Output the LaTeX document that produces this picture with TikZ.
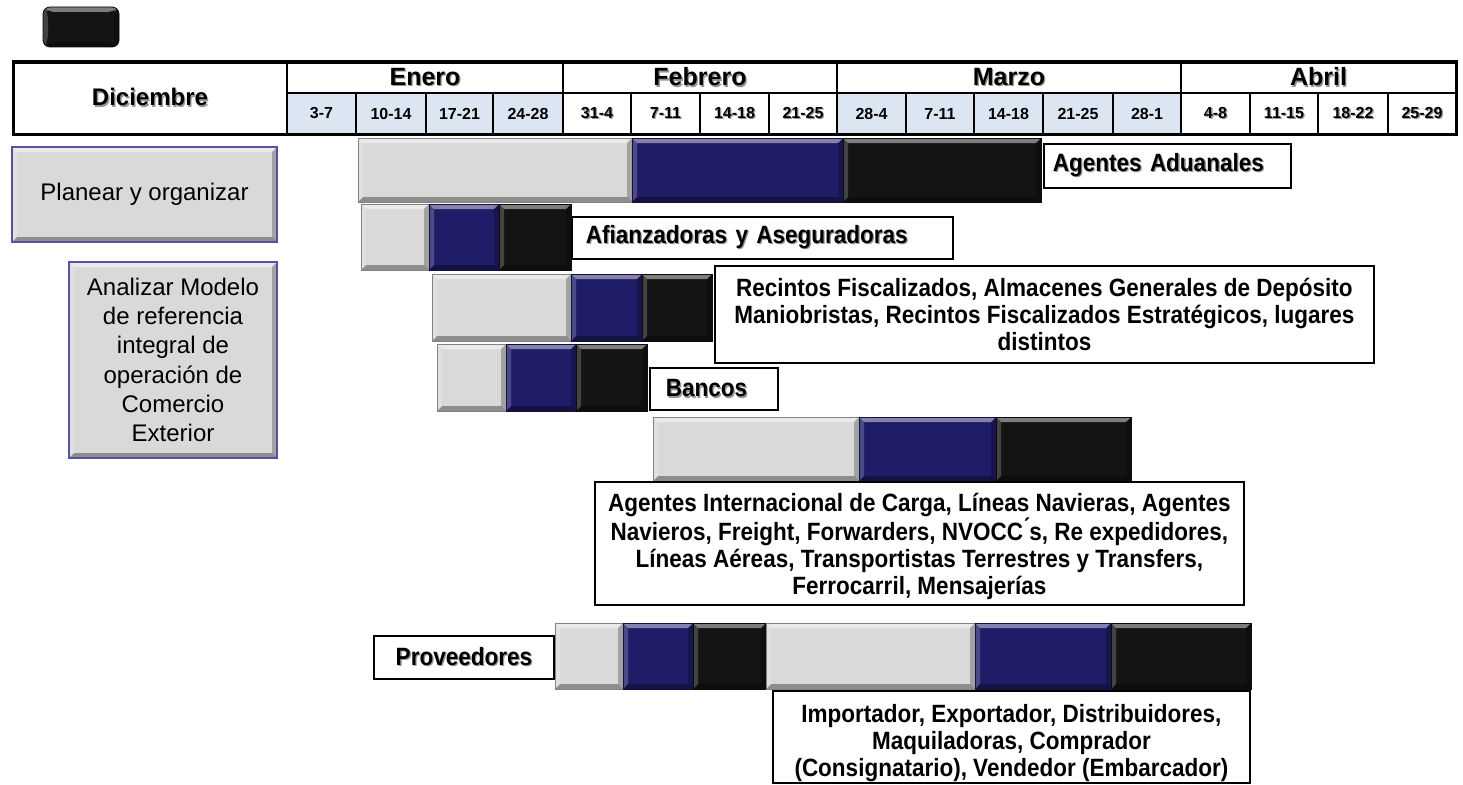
\documentclass[tikz,border=0pt]{standalone}
\usepackage{fontspec}
\setmainfont{Liberation Sans}
\newfontfamily\narrowfont[FakeStretch=0.9]{Liberation Sans}
\usetikzlibrary{positioning}

\definecolor{barGray}{RGB}{217,217,217}
\definecolor{barBlue}{RGB}{31,29,104}
\definecolor{barBlack}{RGB}{20,20,20}
\definecolor{weekBlue}{RGB}{220,230,242}
\definecolor{planBorder}{RGB}{84,84,160}
\definecolor{shadowGray}{RGB}{150,150,150}

\newcommand\shadowtxt[1]{\leavevmode\rlap{\kern1.3pt\raisebox{-1.3pt}{\textcolor{shadowGray}{#1}}}#1}

\tikzset{
  bevel/.style = {fill=#1, draw=#1!60!black, line width=0.8pt, inner sep=0pt, outer sep=0pt,
    path picture={
      \fill[white, opacity=.45] (path picture bounding box.north west) -- (path picture bounding box.north east)
        -- ([shift={(-5pt,-5pt)}]path picture bounding box.north east) -- ([shift={(5pt,-5pt)}]path picture bounding box.north west) -- cycle;
      \fill[black, opacity=.35] (path picture bounding box.south west) -- (path picture bounding box.south east)
        -- ([shift={(-5pt,5pt)}]path picture bounding box.south east) -- ([shift={(5pt,5pt)}]path picture bounding box.south west) -- cycle;
      \fill[white, opacity=.2] (path picture bounding box.north west) -- ([shift={(5pt,-5pt)}]path picture bounding box.north west)
        -- ([shift={(5pt,5pt)}]path picture bounding box.south west) -- (path picture bounding box.south west) -- cycle;
      \fill[black, opacity=.25] (path picture bounding box.north east) -- ([shift={(-5pt,-5pt)}]path picture bounding box.north east)
        -- ([shift={(-5pt,5pt)}]path picture bounding box.south east) -- (path picture bounding box.south east) -- cycle;
    }},
  wh/.style 2 args = {minimum width=#1, minimum height=#2}
}

\begin{document}
\begin{tikzpicture}[
  x=1pt, y=-1pt,
  gbar/.style = {bevel=barGray},
  bbar/.style = {bevel=barBlue},
  kbar/.style = {bevel=barBlack},
  month/.style = {draw, line width=2.5pt, inner sep=0pt, outer sep=0pt, anchor=north west, font=\bfseries\fontsize{25}{27}\selectfont},
  week/.style = {draw, line width=1.5pt, inner sep=0pt, outer sep=0pt, anchor=north west, minimum height=41, font=\bfseries\fontsize{16}{18}\selectfont},
  weekb/.style = {week, fill=weekBlue},
  task/.style = {bevel=barGray, draw=planBorder, line width=1.5pt, anchor=north west, align=center, font=\fontsize{24}{29.3}\selectfont},
  lbl/.style = {draw, fill=white, line width=1.8pt, inner sep=0pt, anchor=north west, align=center, font=\narrowfont\bfseries\fontsize{25}{27}\selectfont}
]
  \useasboundingbox (0,0) rectangle (1463,784);

  % legend
  \node[bevel=barBlack, rounded corners=7pt, anchor=north west, wh={76}{40}] (legend) at (43,7) {};

  % calendar
  \node[month, wh={274}{72}, font=\bfseries\fontsize{24}{26}\selectfont] (dic) at (13,62) {\shadowtxt{Diciembre}};
  \node[month, wh={276}{31}] (enero) at (287,62) {\shadowtxt{Enero}};
  \node[month, wh={274}{31}] (febrero) at (563,62) {\shadowtxt{Febrero}};
  \node[month, wh={344}{31}] (marzo) at (837,62) {\shadowtxt{Marzo}};
  \node[month, wh={275}{31}] (abril) at (1181,62) {\shadowtxt{Abril}};

  \node[weekb, minimum width=69] (w1) at (287,93) {3-7};
  \node[weekb, minimum width=70] (w2) at (356,93) {10-14};
  \node[weekb, minimum width=67] (w3) at (426,93) {17-21};
  \node[weekb, minimum width=70] (w4) at (493,93) {24-28};
  \node[week, minimum width=68] (w5) at (563,93) {\shadowtxt{31-4}};
  \node[week, minimum width=69] (w6) at (631,93) {\shadowtxt{7-11}};
  \node[week, minimum width=69] (w7) at (700,93) {\shadowtxt{14-18}};
  \node[week, minimum width=68] (w8) at (769,93) {\shadowtxt{21-25}};
  \node[weekb, minimum width=69] (w9) at (837,93) {28-4};
  \node[weekb, minimum width=68] (w10) at (906,93) {7-11};
  \node[weekb, minimum width=69] (w11) at (974,93) {14-18};
  \node[weekb, minimum width=70] (w12) at (1043,93) {21-25};
  \node[weekb, minimum width=68] (w13) at (1113,93) {28-1};
  \node[week, minimum width=69] (w14) at (1181,93) {\shadowtxt{4-8}};
  \node[week, minimum width=68] (w15) at (1250,93) {\shadowtxt{11-15}};
  \node[week, minimum width=70] (w16) at (1318,93) {\shadowtxt{18-22}};
  \node[week, minimum width=68] (w17) at (1388,93) {\shadowtxt{25-29}};
  \draw[line width=3pt] (dic.north west) rectangle (w17.south east);

  % tasks
  \node[task, wh={265}{95}] (planear) at (12,147) {Planear y organizar};
  \node[task, wh={208}{196}] (analizar) at (69,262) {Analizar Modelo\\de referencia\\integral de\\operaci\'on de\\Comercio\\Exterior};

  % bars
  \node[gbar, wh={274}{64}, anchor=north west] (r1g) at (358,138) {};
  \node[bbar, wh={211}{64}, right=0pt of r1g] (r1b) {};
  \node[kbar, wh={198}{64}, right=0pt of r1b] (r1k) {};

  \node[gbar, wh={68}{66}, anchor=north west] (r2g) at (361,204) {};
  \node[bbar, wh={70}{66}, right=0pt of r2g] (r2b) {};
  \node[kbar, wh={72}{66}, right=0pt of r2b] (r2k) {};

  \node[gbar, wh={139}{67}, anchor=north west] (r3g) at (432,274) {};
  \node[bbar, wh={71}{67}, right=0pt of r3g] (r3b) {};
  \node[kbar, wh={70}{67}, right=0pt of r3b] (r3k) {};

  \node[gbar, wh={69}{67}, anchor=north west] (r4g) at (437,344) {};
  \node[bbar, wh={70}{67}, right=0pt of r4g] (r4b) {};
  \node[kbar, wh={71}{67}, right=0pt of r4b] (r4k) {};

  \node[gbar, wh={206}{64}, anchor=north west] (r5g) at (653,417) {};
  \node[bbar, wh={137}{64}, right=0pt of r5g] (r5b) {};
  \node[kbar, wh={135}{64}, right=0pt of r5b] (r5k) {};

  \node[gbar, wh={68}{66}, anchor=north west] (r6g) at (555,623) {};
  \node[bbar, wh={70}{66}, right=0pt of r6g] (r6b) {};
  \node[kbar, wh={73}{66}, right=0pt of r6b] (r6k) {};
  \node[gbar, wh={209}{66}, right=0pt of r6k] (r6g2) {};
  \node[bbar, wh={136}{66}, right=0pt of r6g2] (r6b2) {};
  \node[kbar, wh={140}{66}, right=0pt of r6b2] (r6k2) {};

  % actors
  \node[lbl, wh={247}{44}, align=left, text width=229, inner xsep=9] (aduanales) at (1043,143) {\shadowtxt{Agentes Aduanales}};
  \node[lbl, wh={381}{42}, align=left, text width=353, inner xsep=14] (afianzadoras) at (571,216) {\shadowtxt{Afianzadoras y Aseguradoras}};
  \node[lbl, wh={659}{97}] (recintos) at (714,265) {Recintos Fiscalizados, Almacenes Generales de Dep\'osito\\Maniobristas, Recintos Fiscalizados Estrat\'egicos, lugares\\distintos};
  \node[lbl, wh={128}{42}, align=left, text width=96, inner xsep=16] (bancos) at (649,367) {\shadowtxt{Bancos}};
  \node[lbl, wh={649}{123}] (carga) at (594,481) {\rule{0pt}{25pt}Agentes Internacional de Carga, L\'ineas Navieras, Agentes\\Navieros, Freight, Forwarders, NVOCC\'{}s, Re expedidores,\\L\'ineas A\'ereas, Transportistas Terrestres y Transfers,\\Ferrocarril, Mensajer\'ias};
  \node[lbl, wh={180}{43}] (proveedores) at (373,635) {\shadowtxt{Proveedores}};
  \node[lbl, wh={477}{92}] (importador) at (772,690) {\rule{0pt}{30pt}Importador, Exportador, Distribuidores,\\Maquiladoras, Comprador\\(Consignatario), Vendedor (Embarcador)};
\end{tikzpicture}
\end{document}
